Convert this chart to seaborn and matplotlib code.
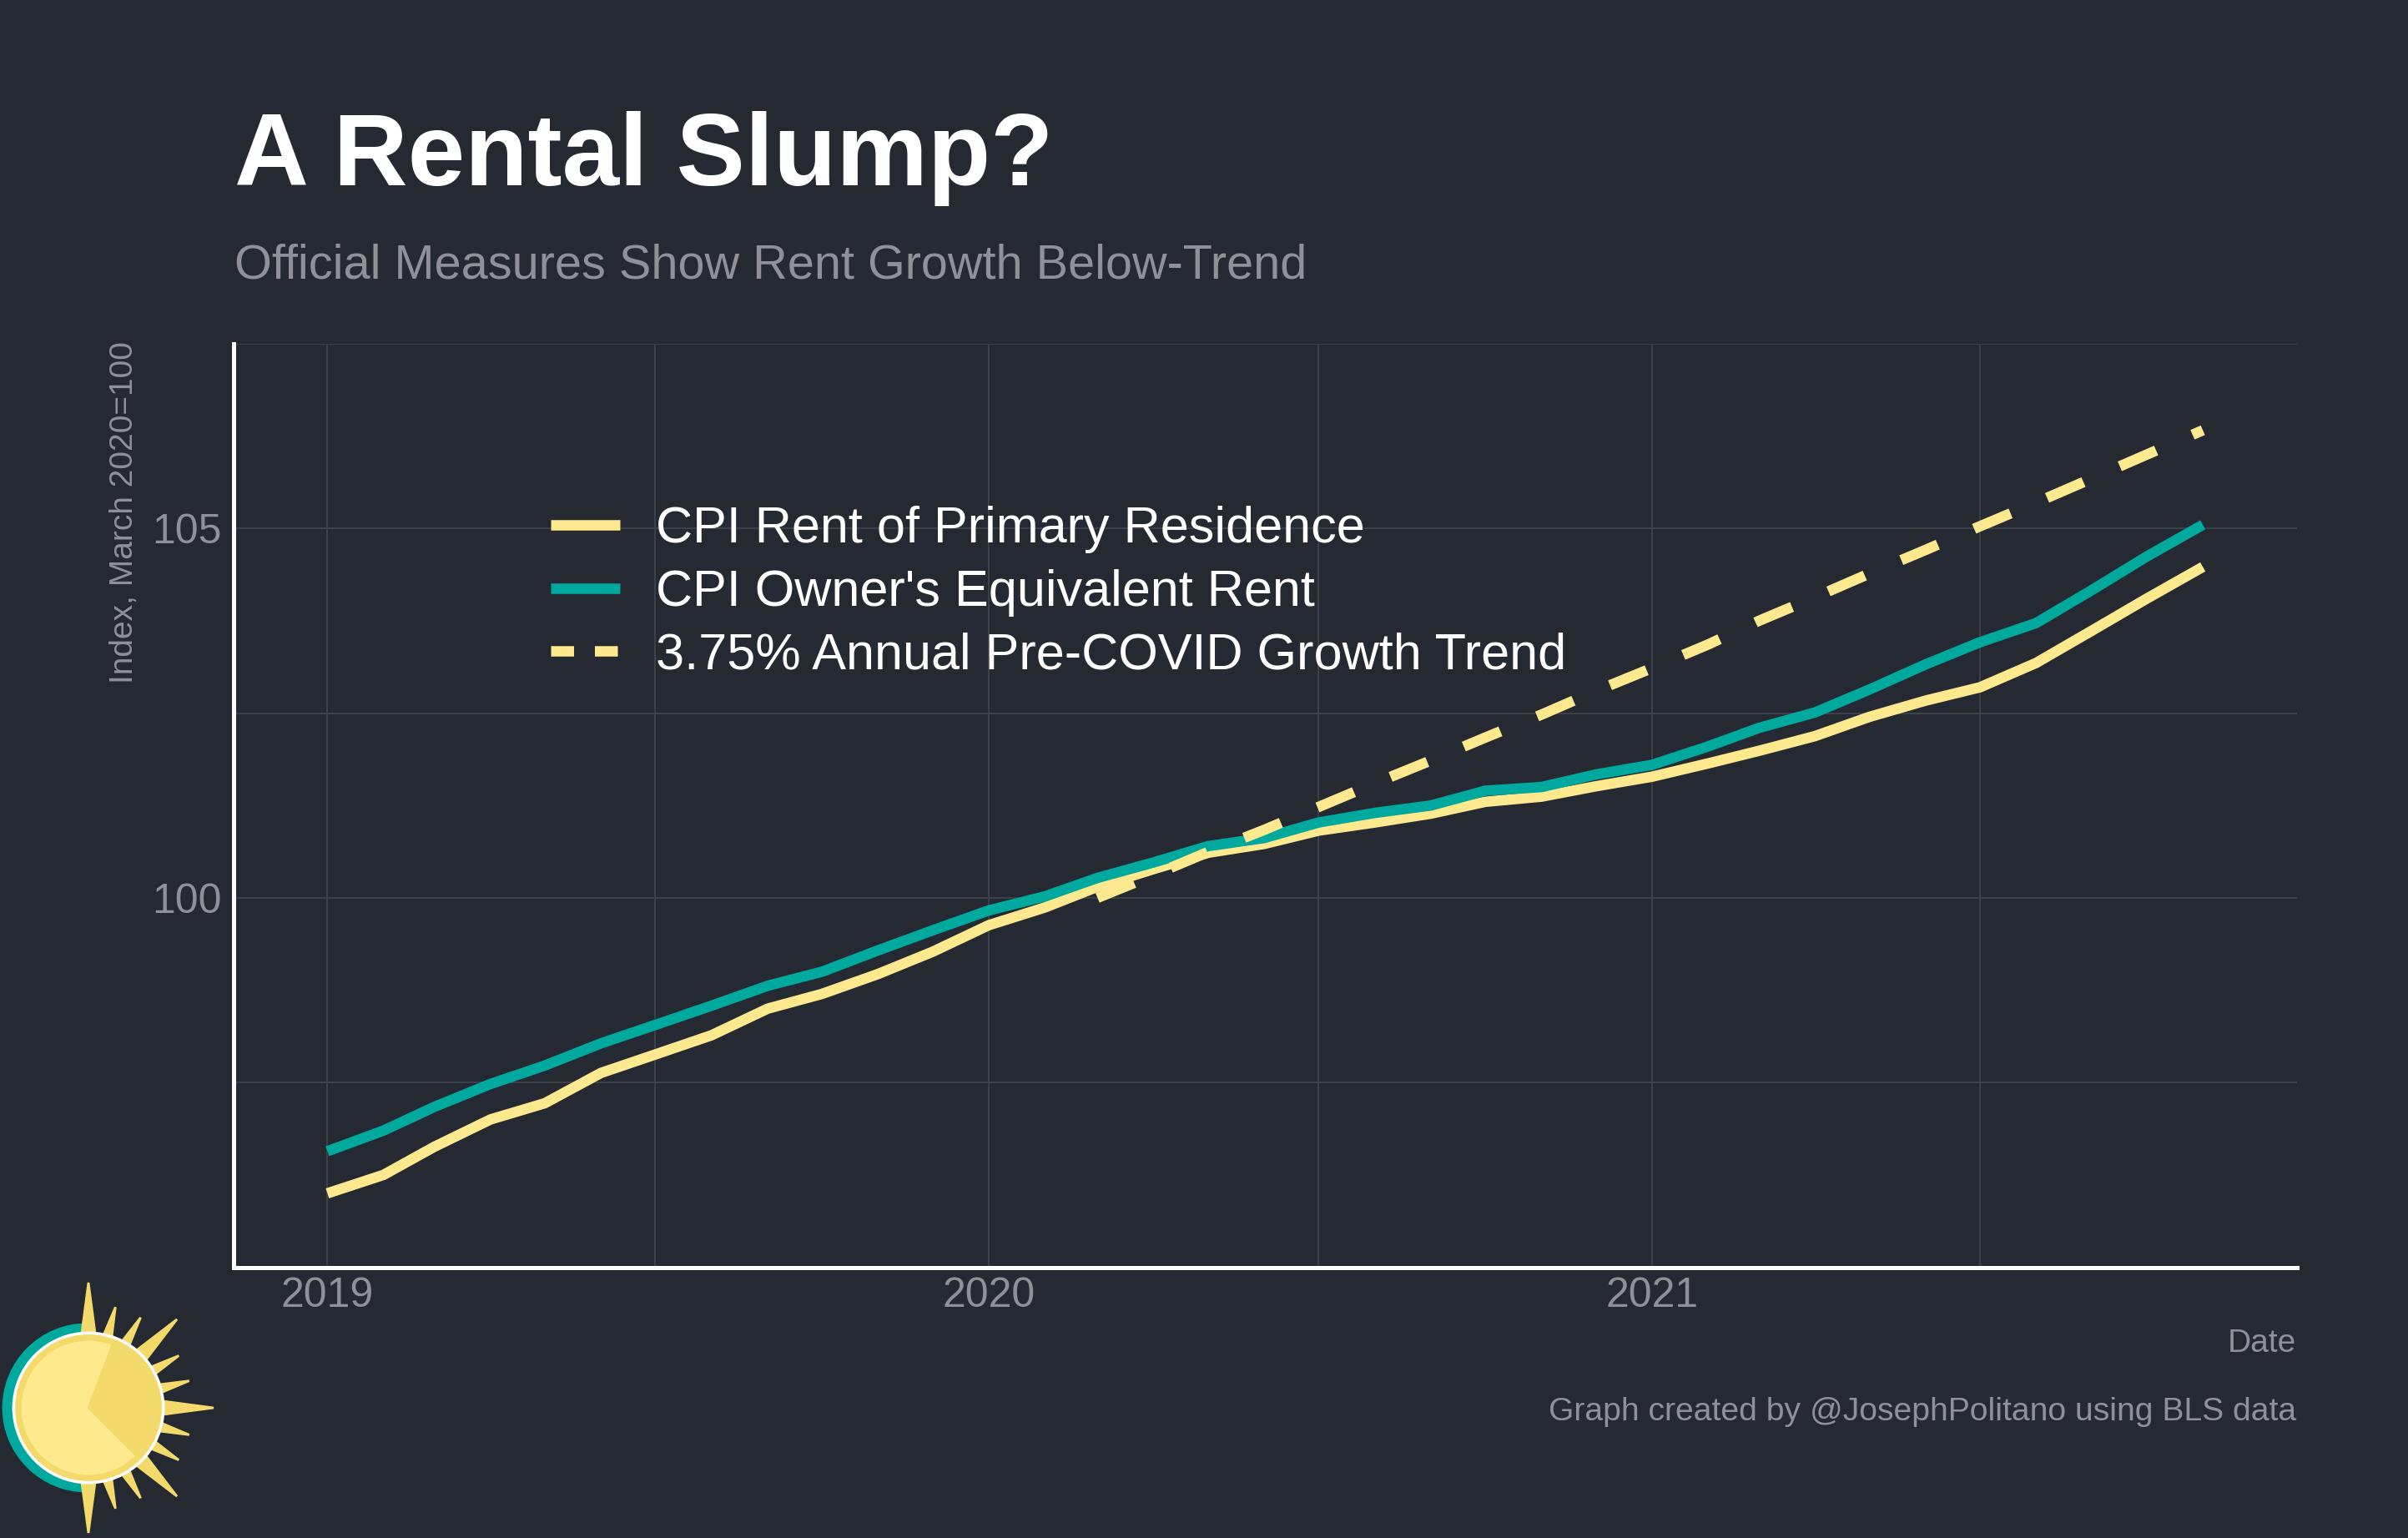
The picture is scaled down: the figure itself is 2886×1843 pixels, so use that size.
import matplotlib
matplotlib.use("Agg")
import matplotlib.pyplot as plt
import matplotlib.dates as mdates
from matplotlib.lines import Line2D
from matplotlib.patches import Circle, Wedge, Polygon
import numpy as np
import pandas as pd
import seaborn as sns

# monthly index values, Jan 2019 - Nov 2021
rent = [96.00, 96.25, 96.63, 97.00, 97.22, 97.63, 97.88, 98.14, 98.50, 98.70, 98.97, 99.27,
        99.63, 99.87, 100.15, 100.39, 100.61, 100.73, 100.91, 101.02, 101.14, 101.30, 101.37, 101.51,
        101.64, 101.82, 101.99, 102.19, 102.45, 102.67, 102.85, 103.18, 103.62, 104.05, 104.48]
oer = [96.57, 96.85, 97.17, 97.48, 97.73, 98.03, 98.28, 98.54, 98.81, 99.00, 99.29, 99.56,
       99.83, 100.02, 100.27, 100.48, 100.70, 100.81, 101.02, 101.15, 101.25, 101.45, 101.50, 101.67,
       101.80, 102.05, 102.30, 102.51, 102.82, 103.16, 103.46, 103.72, 104.17, 104.62, 105.05]
# pre-covid trend, Mar 2020 - Nov 2021
trend = [100.00, 100.31, 100.62, 100.92, 101.23, 101.55, 101.86, 102.17, 102.48, 102.80, 103.11,
         103.43, 103.75, 104.07, 104.39, 104.71, 105.03, 105.35, 105.68, 106.00, 106.33]

series_labels = ["CPI Rent of Primary Residence", "CPI Owner's Equivalent Rent",
                 "3.75% Annual Pre-COVID Growth Trend"]
y_major = [100, 105]
y_minor = [97.5, 102.5, 107.5]

BG = "#252A32"
GRID = "#3C414A"
MUTED = "#8F9196"
YELLOW = "#FFE98F"
TEAL = "#00A99D"
SUN_DARK = "#F3DA6A"

W, H = 2886, 1843


def fx(px):
    return px / W


def fy(py):
    return 1 - py / H


sns.set_theme(style="dark")
plt.rcParams["font.family"] = ["Liberation Sans", "DejaVu Sans"]

dates = pd.date_range("2019-01-01", periods=len(rent), freq="MS")
trend_dates = pd.date_range("2020-03-01", periods=len(trend), freq="MS")
df = pd.DataFrame({"date": dates, "rent": rent, "oer": oer})
trend_df = pd.DataFrame({"date": trend_dates, "trend": trend})

fig = plt.figure(figsize=(W / 200, H / 200), dpi=200, facecolor=BG)
ax = fig.add_axes([fx(280), fy(1518.5), fx(2752.5) - fx(280), fy(412) - fy(1518.5)])
ax.set_facecolor(BG)

lw = 4.5
sns.lineplot(data=df, x="date", y="rent", color=YELLOW, linewidth=lw, ax=ax,
             solid_capstyle="butt", legend=False)
sns.lineplot(data=df, x="date", y="oer", color=TEAL, linewidth=lw, ax=ax,
             solid_capstyle="butt", legend=False)
sns.lineplot(data=trend_df, x="date", y="trend", color=YELLOW, linewidth=lw, ax=ax, legend=False)
ax.lines[-1].set_dashes([3.8, 3.8])
ax.lines[-1].set_dash_capstyle("butt")

span = dates[-1] - dates[0]
ax.set_xlim(dates[0] - span * 0.05, dates[-1] + span * 0.05)
ax.set_ylim(95.0, 107.5)

ax.xaxis.set_major_locator(mdates.YearLocator())
ax.xaxis.set_major_formatter(mdates.DateFormatter("%Y"))
ax.xaxis.set_minor_locator(mdates.MonthLocator(bymonth=7))
ax.set_yticks(y_major)
ax.set_yticklabels([str(v) for v in y_major])
ax.set_yticks(y_minor, minor=True)

ax.grid(which="both", color=GRID, linewidth=0.7)
ax.set_axisbelow(True)
ax.tick_params(which="both", length=0, labelsize=18, labelcolor=MUTED)
ax.tick_params(axis="y", pad=5.0)
ax.tick_params(axis="x", pad=4)
ax.set_xlabel("")
ax.set_ylabel("")

for s in ["top", "right"]:
    ax.spines[s].set_visible(False)
for s in ["left", "bottom"]:
    ax.spines[s].set_color("white")
    ax.spines[s].set_linewidth(1.8)

handles = [
    Line2D([], [], color=YELLOW, lw=lw, solid_capstyle="butt"),
    Line2D([], [], color=TEAL, lw=lw, solid_capstyle="butt"),
    Line2D([], [], color=YELLOW, lw=lw, dashes=(2.2, 2.0), dash_capstyle="butt"),
]
leg = ax.legend(handles, series_labels, loc="upper left", bbox_to_anchor=(0.1537, 0.8247),
                frameon=False, fontsize=22, handlelength=1.36, handletextpad=0.70,
                labelspacing=0.31, borderpad=0, borderaxespad=0)
for t in leg.get_texts():
    t.set_color("white")

# titles and notes
fig.text(fx(281), fy(222), "A Rental Slump?", fontsize=44.4, fontweight="bold",
         color="white", ha="left", va="baseline")
fig.text(fx(281), fy(334), "Official Measures Show Rent Growth Below-Trend", fontsize=20.75,
         color=MUTED, ha="left", va="baseline")
fig.text(fx(149), fy(409), "Index, March 2020=100", fontsize=14, color=MUTED,
         rotation=90, ha="center", va="top")
fig.text(fx(2752), fy(1620), "Date", fontsize=14, color=MUTED, ha="right", va="baseline")
fig.text(fx(2752), fy(1702), "Graph created by @JosephPolitano using BLS data", fontsize=14.1,
         color=MUTED, ha="right", va="baseline")

# sun logo, bottom left
lax = fig.add_axes([0, 0, fx(270), 313 / H])
lax.set_xlim(0, 270)
lax.set_ylim(0, 313)
lax.axis("off")
cx, cy = 106, 156
lax.add_patch(Wedge((cx - 2, cy), 100, 90, 270, color=TEAL))
for ang in range(-90, 91, 15):
    long_ray = ang % 45 == 0
    tip_r = 150 if long_ray else 125
    half = 9 if long_ray else 6
    a = np.deg2rad(ang)
    base_r = 82
    bx, by = cx + base_r * np.cos(a), cy + base_r * np.sin(a)
    nx, ny = -np.sin(a), np.cos(a)
    pts = [(bx + half * nx, by + half * ny), (bx - half * nx, by - half * ny),
           (cx + tip_r * np.cos(a), cy + tip_r * np.sin(a))]
    lax.add_patch(Polygon(pts, closed=True, color=SUN_DARK))
lax.add_patch(Circle((cx, cy), 90, color="white"))
lax.add_patch(Circle((cx, cy), 86.5, color=SUN_DARK))
lax.add_patch(Circle((cx, cy), 79, color=YELLOW))
lax.add_patch(Wedge((cx, cy), 79, -45, 69, color=SUN_DARK))

fig.savefig("out.png", dpi=200, facecolor=BG)
